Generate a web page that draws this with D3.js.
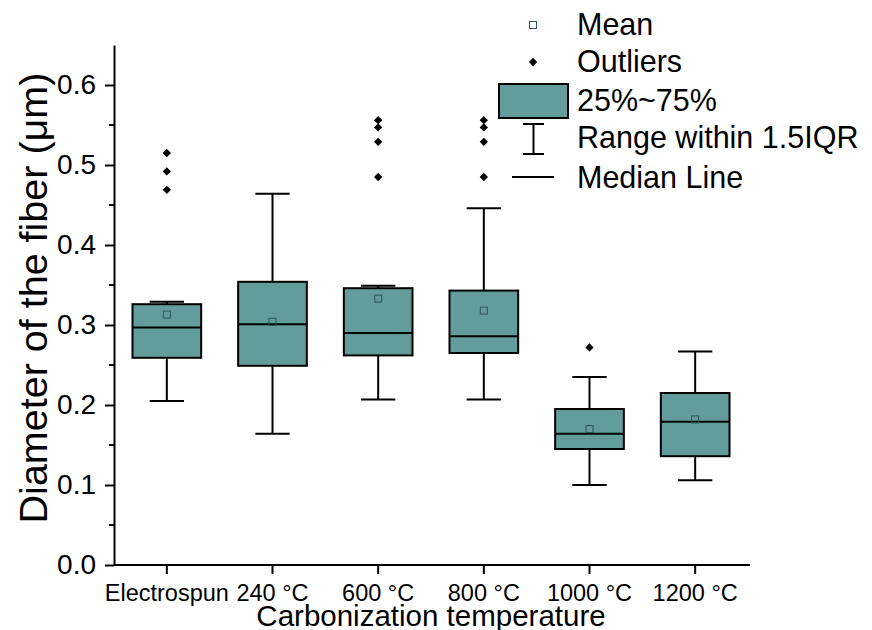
<!DOCTYPE html>
<html>
<head>
<meta charset="utf-8">
<script src="https://cdn.jsdelivr.net/npm/d3@7"></script>
<style>
  body { margin: 0; background: #fff; }
  text { font-family: "Liberation Sans", Arial, sans-serif; }
</style>
</head>
<body>
<div id="chart"></div>
<script>
const categories = ["Electrospun", "240 °C", "600 °C", "800 °C", "1000 °C", "1200 °C"];
const q1 = [0.259, 0.249, 0.262, 0.265, 0.145, 0.136];
const median = [0.297, 0.301, 0.290, 0.286, 0.164, 0.179];
const q3 = [0.326, 0.354, 0.346, 0.343, 0.195, 0.215];
const whiskerLow = [0.205, 0.164, 0.207, 0.207, 0.100, 0.106];
const whiskerHigh = [0.329, 0.464, 0.349, 0.446, 0.235, 0.267];
const means = [0.313, 0.304, 0.333, 0.318, 0.170, 0.182];
const outliers = [
  [0.515, 0.492, 0.469],
  [],
  [0.556, 0.547, 0.529, 0.485],
  [0.556, 0.547, 0.529, 0.485],
  [0.272],
  []
];
const yTicks = [0, 0.1, 0.2, 0.3, 0.4, 0.5, 0.6];
const legendLabels = ["Mean", "Outliers", "25%~75%", "Range within 1.5IQR", "Median Line"];

const width = 872, height = 630;
const fill = "#629c9b";

var svg = d3.select("#chart").append("svg")
    .attr("width", width)
    .attr("height", height);

var x = d3.scaleBand().domain(categories).range([114, 748]).paddingInner(0.35).paddingOuter(0.175);
var y = d3.scaleLinear().domain([0, 0.65]).range([565, 45]);

// y axis
var yAxis = svg.append("g").attr("transform", "translate(114,0)")
    .call(d3.axisLeft(y).tickValues(yTicks).tickFormat(d3.format(".1f")).tickSize(9).tickSizeOuter(0));
yAxis.selectAll("text").attr("font-size", 28).attr("fill", "#000").attr("x", -18)
    .attr("font-family", "Liberation Sans, Arial, sans-serif");
yAxis.append("g").selectAll("line")
    .data(d3.range(0.05, 0.65, 0.1))
    .enter().append("line")
        .attr("x1", -5).attr("x2", 0)
        .attr("y1", d => y(d)).attr("y2", d => y(d));
yAxis.selectAll("path, line").attr("stroke", "#000").attr("stroke-width", 2);

// x axis
var xAxis = svg.append("g").attr("transform", "translate(0,565)")
    .call(d3.axisBottom(x).tickSize(9).tickSizeOuter(0));
xAxis.select(".domain").attr("d", "M114,0H750");
xAxis.selectAll("path, line").attr("stroke", "#000").attr("stroke-width", 2);
xAxis.selectAll("text").attr("font-size", 23.5).attr("fill", "#000")
    .attr("y", 36).attr("dy", null)
    .attr("font-family", "Liberation Sans, Arial, sans-serif");

// axis titles
svg.append("text")
    .attr("x", 431).attr("y", 626)
    .attr("text-anchor", "middle").attr("font-size", 29.5)
    .text("Carbonization temperature");
svg.append("text")
    .attr("transform", "translate(47,298) rotate(-90)")
    .attr("text-anchor", "middle").attr("font-size", 39.5)
    .text("Diameter of the fiber (μm)");

// boxes
var bw = x.bandwidth();
var boxes = svg.append("g").selectAll("g")
    .data(categories)
    .enter().append("g")
        .attr("transform", d => "translate(" + (x(d) + bw / 2) + ",0)");

boxes.append("line")
    .attr("y1", (d, i) => y(whiskerLow[i])).attr("y2", (d, i) => y(q1[i]))
    .attr("stroke", "#000").attr("stroke-width", 2);
boxes.append("line")
    .attr("y1", (d, i) => y(whiskerHigh[i])).attr("y2", (d, i) => y(q3[i]))
    .attr("stroke", "#000").attr("stroke-width", 2);
boxes.append("line")
    .attr("x1", -bw / 4).attr("x2", bw / 4)
    .attr("y1", (d, i) => y(whiskerLow[i])).attr("y2", (d, i) => y(whiskerLow[i]))
    .attr("stroke", "#000").attr("stroke-width", 2);
boxes.append("line")
    .attr("x1", -bw / 4).attr("x2", bw / 4)
    .attr("y1", (d, i) => y(whiskerHigh[i])).attr("y2", (d, i) => y(whiskerHigh[i]))
    .attr("stroke", "#000").attr("stroke-width", 2);
boxes.append("rect")
    .attr("x", -bw / 2).attr("width", bw)
    .attr("y", (d, i) => y(q3[i]))
    .attr("height", (d, i) => y(q1[i]) - y(q3[i]))
    .attr("fill", fill).attr("stroke", "#000").attr("stroke-width", 2);
boxes.append("line")
    .attr("x1", -bw / 2).attr("x2", bw / 2)
    .attr("y1", (d, i) => y(median[i])).attr("y2", (d, i) => y(median[i]))
    .attr("stroke", "#000").attr("stroke-width", 2);
boxes.append("rect")
    .attr("x", -3.5).attr("width", 7).attr("height", 7)
    .attr("y", (d, i) => y(means[i]) - 3.5)
    .attr("fill", "none").attr("stroke", "#2f5757").attr("stroke-width", 1);

var diamond = d3.symbol().type(d3.symbolDiamond2).size(44);
boxes.each(function(d, i) {
    d3.select(this).selectAll("path.out")
        .data(outliers[i])
        .enter().append("path")
            .attr("class", "out")
            .attr("d", diamond)
            .attr("transform", v => "translate(0," + y(v) + ")")
            .attr("fill", "#000");
});

// legend
var lg = svg.append("g");
var baseY = [35, 72, 111, 148, 188];
lg.selectAll("text")
    .data(legendLabels)
    .enter().append("text")
        .attr("x", 577)
        .attr("y", (d, i) => baseY[i])
        .attr("font-size", 30.5)
        .text(d => d);
lg.append("rect").attr("x", 529.5).attr("y", 21.5).attr("width", 7).attr("height", 7)
    .attr("fill", "none").attr("stroke", "#2f5757").attr("stroke-width", 1);
lg.append("path").attr("d", diamond).attr("transform", "translate(533,62)").attr("fill", "#000");
lg.append("rect").attr("x", 499).attr("y", 84).attr("width", 69).attr("height", 34)
    .attr("fill", fill).attr("stroke", "#000").attr("stroke-width", 2);
lg.append("path").attr("d", "M523,124H544M533.5,124V154M523,154H544")
    .attr("stroke", "#000").attr("stroke-width", 2).attr("fill", "none");
lg.append("line").attr("x1", 512).attr("x2", 554).attr("y1", 177).attr("y2", 177)
    .attr("stroke", "#000").attr("stroke-width", 2);
</script>
</body>
</html>
